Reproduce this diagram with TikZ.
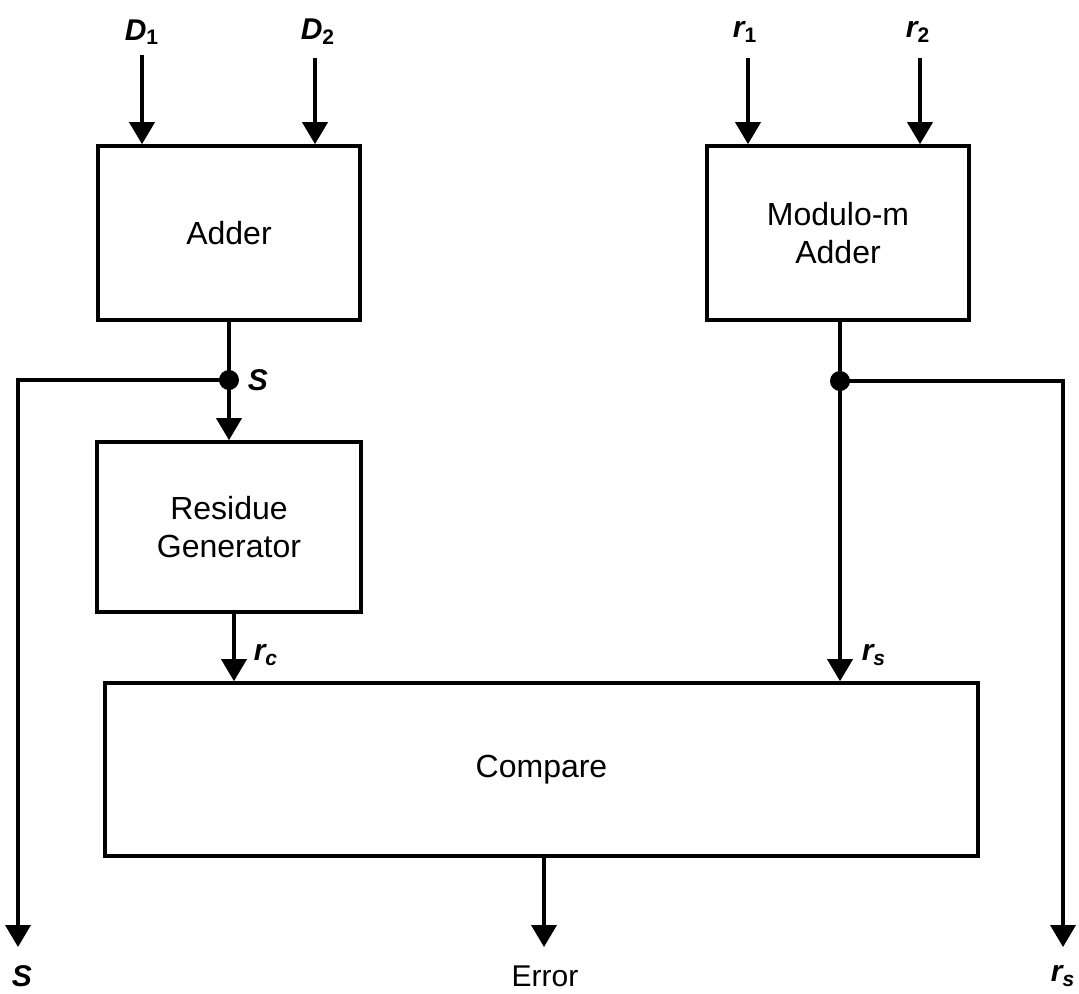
\documentclass[tikz,border=0pt]{standalone}
\usepackage{fontspec}
\setmainfont{Liberation Sans}
\usetikzlibrary{arrows.meta}
\begin{document}
\begin{tikzpicture}[x=0.5pt,y=-0.5pt,
  line width=1.8pt,
  box/.style={draw, rectangle, inner sep=0pt, align=center, font=\fontsize{16}{19}\selectfont},
  arr/.style={-{Triangle[width=12.5pt,length=11pt]}},
  lbl/.style={font=\fontsize{15}{18}\selectfont\bfseries\itshape, inner sep=1pt},
  dot/.style={circle, fill, inner sep=0pt, minimum size=10pt}]
\useasboundingbox (0,0) rectangle (1079,993);
% blocks
\node[box, minimum width=131pt, minimum height=87pt] (adder) at (229,233) {Adder};
\node[box, minimum width=131pt, minimum height=87pt] (mod) at (838,233) {Modulo-m\\Adder};
\node[box, minimum width=132pt, minimum height=85pt] (res) at (229,527) {Residue\\Generator};
\node[box, minimum width=436.5pt, minimum height=86.5pt] (cmp) at (541.5,769.5) {Compare};
% inputs
\coordinate (d1) at (142,55);
\coordinate (d2) at (315,58);
\coordinate (r1) at (748,58);
\coordinate (r2) at (920,58);
\node[lbl] (ld1) at (142,32) {D\textsubscript{\upshape 1}};
\node[lbl] (ld2) at (318,32) {D\textsubscript{\upshape 2}};
\node[lbl] (lr1) at (745,32) {r\textsubscript{\upshape 1}};
\node[lbl] (lr2) at (918,32) {r\textsubscript{\upshape 2}};
\draw[arr] (d1) -- (d1 |- adder.north);
\draw[arr] (d2) -- (d2 |- adder.north);
\draw[arr] (r1) -- (r1 |- mod.north);
\draw[arr] (r2) -- (r2 |- mod.north);
% adder output
\node[dot] (js) at (229,380) {};
\node[lbl, anchor=west] (ls) at (244,380) {S};
\draw (adder.south) -- (js.center);
\draw[arr] (js.center) -- (res.north);
\coordinate (sout) at (18,947);
\draw[arr] (js.center) -| (sout);
\node[lbl] (lsout) at (22,976) {S};
% residue output
\coordinate (rc) at (234,0);
\draw[arr] (rc |- res.south) -- (rc |- cmp.north);
\node[lbl, anchor=west] (lrc) at (250,655) {r\textsubscript{c}};
% modulo output
\node[dot] (jr) at (840,381) {};
\draw (jr |- mod.south) -- (jr.center);
\draw[arr] (jr.center) -- (jr.center |- cmp.north);
\node[lbl, anchor=west] (lrs) at (858,655) {r\textsubscript{s}};
\coordinate (rsout) at (1063,947);
\draw[arr] (jr.center) -| (rsout);
\node[lbl] (lrsout) at (1063,976) {r\textsubscript{s}};
% error
\coordinate (err) at (544,947);
\draw[arr] (err |- cmp.south) -- (err);
\node[font=\fontsize{15}{18}\selectfont, inner sep=1pt] (lerr) at (545,976) {Error};
\end{tikzpicture}
\end{document}
